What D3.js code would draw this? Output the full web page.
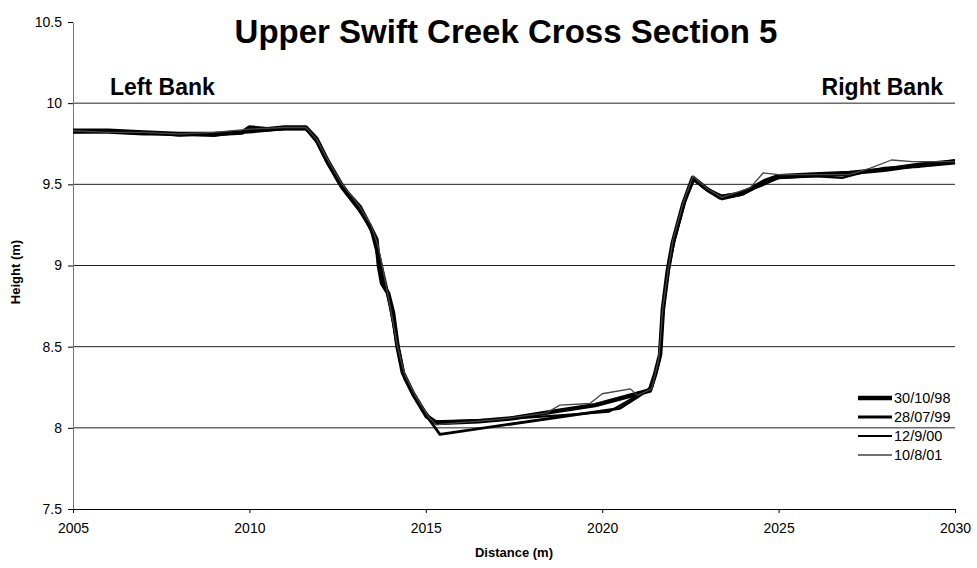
<!DOCTYPE html>
<html>
<head>
<meta charset="utf-8">
<script src="https://cdn.jsdelivr.net/npm/d3@7"></script>
<style>
  body { margin: 0; background: #fff; }
  text { font-family: "Liberation Sans", Arial, sans-serif; fill: #000; }
</style>
</head>
<body>
<script>

//Survey dates and cross section readings (distance m, height m)
var surveys = ["30/10/98", "28/07/99", "12/9/00", "10/8/01"];

var s1998 = [[2005,9.83],[2006,9.83],[2007,9.82],[2008,9.81],[2009,9.81],[2009.8,9.82],[2010,9.85],[2010.5,9.84],
  [2011,9.85],[2011.6,9.85],[2011.9,9.78],[2012.2,9.65],[2012.6,9.5],[2012.8,9.44],[2013.13,9.36],[2013.42,9.24],
  [2013.6,9.16],[2013.67,9.0],[2013.76,8.89],[2013.93,8.83],[2014.07,8.71],[2014.2,8.5],[2014.35,8.34],[2014.64,8.21],
  [2015.03,8.07],[2015.3,8.03],[2016.5,8.04],[2017.5,8.06],[2018.6,8.1],[2019.8,8.14],[2021.0,8.21],[2021.35,8.23],
  [2021.5,8.33],[2021.64,8.45],[2021.72,8.73],[2021.86,8.97],[2022.0,9.14],[2022.3,9.38],[2022.57,9.54],[2022.97,9.47],
  [2023.34,9.42],[2023.9,9.44],[2024.2,9.47],[2024.6,9.52],[2025,9.55],[2026,9.56],[2027,9.57],[2028,9.59],[2029,9.62],[2030,9.64]];

var s1999 = [[2005,9.82],[2006,9.82],[2007,9.81],[2008,9.81],[2009,9.8],[2010,9.83],[2011,9.84],[2011.6,9.84],
  [2011.9,9.77],[2012.2,9.64],[2012.6,9.49],[2013.1,9.35],[2013.45,9.22],[2013.65,9.05],[2013.9,8.84],[2014.2,8.52],
  [2014.4,8.31],[2014.7,8.19],[2015.1,8.05],[2015.4,7.96],[2020.5,8.12],[2021.0,8.19],[2021.4,8.25],[2021.62,8.42],
  [2021.74,8.75],[2021.88,8.98],[2022.05,9.16],[2022.35,9.4],[2022.6,9.53],[2023.0,9.46],[2023.4,9.41],[2024.0,9.44],
  [2024.5,9.5],[2025,9.54],[2026,9.55],[2027,9.56],[2028,9.6],[2029,9.61],[2030,9.63]];

var s2000 = [[2005,9.82],[2006,9.83],[2007,9.82],[2008,9.8],[2009,9.81],[2010,9.82],[2011,9.84],[2011.6,9.84],
  [2011.9,9.76],[2012.2,9.63],[2012.6,9.48],[2013.1,9.34],[2013.45,9.23],[2013.65,9.1],[2013.9,8.86],[2014.2,8.48],
  [2014.4,8.3],[2014.7,8.18],[2015.2,8.04],[2017,8.05],[2019,8.08],[2020.2,8.1],[2021.0,8.2],[2021.4,8.24],
  [2021.6,8.4],[2021.72,8.7],[2021.85,8.95],[2022.0,9.12],[2022.3,9.37],[2022.55,9.53],[2023.0,9.47],[2023.4,9.43],
  [2024.0,9.45],[2024.5,9.49],[2025,9.54],[2026,9.55],[2026.8,9.54],[2027.5,9.58],[2028.5,9.61],[2029.5,9.63],[2030,9.65]];

var s2001 = [[2005,9.83],[2006,9.82],[2007,9.82],[2008,9.81],[2009,9.82],[2010,9.84],[2011,9.85],[2011.6,9.85],
  [2011.9,9.78],[2012.2,9.66],[2012.6,9.51],[2013.1,9.37],[2013.45,9.25],[2013.65,9.12],[2013.9,8.85],[2014.2,8.5],
  [2014.4,8.33],[2014.7,8.2],[2015.1,8.06],[2015.3,8.02],[2017.0,8.05],[2018.4,8.09],[2018.8,8.14],[2019.65,8.15],
  [2020.0,8.21],[2020.8,8.24],[2021.0,8.2],[2021.4,8.24],[2021.6,8.42],[2021.72,8.74],[2021.86,8.96],[2022.0,9.15],
  [2022.3,9.39],[2022.57,9.55],[2023.0,9.47],[2023.4,9.42],[2024.2,9.48],[2024.56,9.57],[2025,9.56],[2026,9.56],
  [2027,9.56],[2027.6,9.6],[2028.2,9.65],[2028.8,9.64],[2029.5,9.64],[2030,9.64]];

var series = [s1998, s1999, s2000, s2001];
var strokeWidths = [4.5, 2.8, 2.2, 1.3];
var strokeColors = ["#000", "#000", "#000", "#444"];

var xTicks = [2005, 2010, 2015, 2020, 2025, 2030];
var yTicks = [7.5, 8, 8.5, 9, 9.5, 10, 10.5];
var gridValues = [8, 8.5, 9, 9.5, 10];

//SVG size and plot area
var width = 977, height = 568;
var margin = {top: 22, right: 22, bottom: 59, left: 73};

var svg = d3.select("body")
  .append("svg")
  .attr("width", width)
  .attr("height", height);

var xScale = d3.scaleLinear()
  .domain([2005, 2030])
  .range([margin.left, width - margin.right]);

var yScale = d3.scaleLinear()
  .domain([7.5, 10.5])
  .range([height - margin.bottom, margin.top]);

//Horizontal gridlines
svg.append("g")
  .selectAll("line")
  .data(gridValues)
  .enter()
  .append("line")
  .attr("x1", xScale(2005))
  .attr("x2", xScale(2030))
  .attr("y1", function(d){return yScale(d);})
  .attr("y2", function(d){return yScale(d);})
  .attr("stroke", "#222")
  .attr("stroke-width", 1);

//Axes
var xAxis = svg.append("g")
  .attr("transform", "translate(0," + yScale(7.5) + ")")
  .call(d3.axisBottom(xScale).tickValues(xTicks).tickFormat(d3.format("d")).tickSizeInner(4).tickSizeOuter(0).tickPadding(10));
xAxis.select(".domain").attr("stroke", "#000");
xAxis.selectAll("text").attr("font-size", "14px").attr("font-family", "Liberation Sans, Arial, sans-serif");

var yAxis = svg.append("g")
  .attr("transform", "translate(" + xScale(2005) + ",0)")
  .call(d3.axisLeft(yScale).tickValues(yTicks).tickFormat(function(d){return String(d);}).tickSizeInner(5).tickSizeOuter(0).tickPadding(6));
yAxis.select(".domain").attr("stroke", "#777");
yAxis.selectAll("text").attr("font-size", "14px").attr("font-family", "Liberation Sans, Arial, sans-serif");

//Survey lines
var line = d3.line()
  .x(function(d){return xScale(d[0]);})
  .y(function(d){return yScale(d[1]);});

svg.append("g")
  .selectAll("path")
  .data(series)
  .enter()
  .append("path")
  .attr("d", line)
  .attr("fill", "none")
  .attr("stroke", function(d,i){return strokeColors[i];})
  .attr("stroke-width", function(d,i){return strokeWidths[i];})
  .attr("stroke-linejoin", "round");

//Title and labels
svg.append("text")
  .attr("x", 506)
  .attr("y", 43)
  .attr("text-anchor", "middle")
  .attr("font-size", "33px")
  .attr("font-weight", "bold")
  .text("Upper Swift Creek Cross Section 5");

svg.append("text")
  .attr("x", 110)
  .attr("y", 95)
  .attr("font-size", "23px")
  .attr("font-weight", "bold")
  .text("Left Bank");

svg.append("text")
  .attr("x", 943)
  .attr("y", 95)
  .attr("text-anchor", "end")
  .attr("font-size", "23px")
  .attr("font-weight", "bold")
  .text("Right Bank");

svg.append("text")
  .attr("x", 514)
  .attr("y", 557)
  .attr("text-anchor", "middle")
  .attr("font-size", "13px")
  .attr("font-weight", "bold")
  .text("Distance (m)");

svg.append("text")
  .attr("transform", "translate(20,272) rotate(-90)")
  .attr("text-anchor", "middle")
  .attr("font-size", "13px")
  .attr("font-weight", "bold")
  .text("Height (m)");

//Legend
var legend = svg.append("g")
  .attr("transform", "translate(858,398)");

legend.selectAll("line")
  .data(surveys)
  .enter()
  .append("line")
  .attr("x1", 0)
  .attr("x2", 34)
  .attr("y1", function(d,i){return i*19;})
  .attr("y2", function(d,i){return i*19;})
  .attr("stroke", function(d,i){return strokeColors[i];})
  .attr("stroke-width", function(d,i){return strokeWidths[i];});

legend.selectAll("text")
  .data(surveys)
  .enter()
  .append("text")
  .attr("x", 36)
  .attr("y", function(d,i){return i*19 + 5;})
  .attr("font-size", "14.5px")
  .text(function(d){return d;});

</script>
</body>
</html>
